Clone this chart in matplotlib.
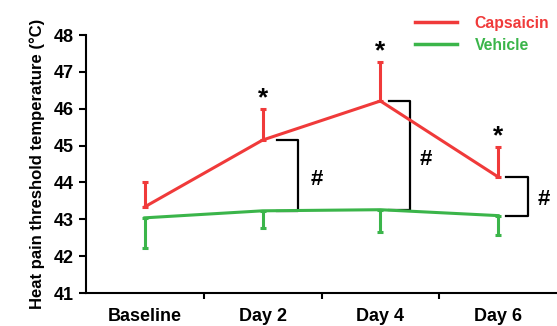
import matplotlib.pyplot as plt
from matplotlib.lines import Line2D

plt.rcParams['font.family'] = ['Liberation Sans', 'DejaVu Sans']
plt.rcParams['font.weight'] = 'bold'

days = ['Baseline', 'Day 2', 'Day 4', 'Day 6']
capsaicin = [43.34, 45.15, 46.21, 44.15]
capsaicin_err = [0.66, 0.85, 1.06, 0.82]
vehicle = [43.04, 43.23, 43.26, 43.10]
vehicle_err = [0.81, 0.46, 0.60, 0.52]

red = '#f03a3a'
green = '#3bb54a'

fig = plt.figure(figsize=(5.57, 3.26), dpi=100)
ax = fig.add_axes([0.1544, 0.1012, 0.8456, 0.7914])

x = list(range(len(days)))
ax.errorbar(x, capsaicin, yerr=[[0] * 4, capsaicin_err], color=red, lw=2.2,
            elinewidth=2.2, capsize=2.3, capthick=2.2, zorder=3)
ax.errorbar(x, vehicle, yerr=[vehicle_err, [0] * 4], color=green, lw=2.2,
            elinewidth=2.2, capsize=2.3, capthick=2.2, zorder=3)

# stars above capsaicin error bars
for i in [1, 2, 3]:
    ax.text(x[i], capsaicin[i] + capsaicin_err[i] - 0.05, '*', ha='center',
            va='bottom', fontsize=19, color='black')

# brackets between groups
offs = {1: 0.3, 2: 0.25, 3: 0.25}
hash_offs = {1: 0.46, 2: 0.39, 3: 0.39}
for i in [1, 2, 3]:
    bx = x[i] + offs[i]
    ax.plot([bx - 0.18, bx, bx, bx - 0.18],
            [capsaicin[i], capsaicin[i], vehicle[i], vehicle[i]],
            color='black', lw=1.6, zorder=2)
    ax.text(x[i] + hash_offs[i], (capsaicin[i] + vehicle[i]) / 2 - 0.1, '#',
            ha='center', va='center', fontsize=16, color='black')

ax.set_xlim(-0.5, 3.5)
ax.set_ylim(41, 48)
ax.set_yticks(range(41, 49))
ax.set_xticks([0.5, 1.5, 2.5])
ax.set_xticklabels([])
ax.set_xticks(x, minor=True)
ax.set_xticklabels(days, minor=True, fontsize=13, fontweight='bold')
ax.tick_params(axis='x', which='minor', length=0, pad=11)
ax.tick_params(axis='x', which='major', length=4, width=1.5)
ax.tick_params(axis='y', length=5, width=1.5, labelsize=13, pad=4)
for lab in ax.get_yticklabels():
    lab.set_fontweight('bold')

for s in ['top', 'right']:
    ax.spines[s].set_visible(False)
for s in ['left', 'bottom']:
    ax.spines[s].set_linewidth(1.5)

ax.set_ylabel('Heat pain threshold temperature (°C)', fontsize=12,
              fontweight='bold', labelpad=6)

handles = [Line2D([], [], color=red, lw=2.5), Line2D([], [], color=green, lw=2.5)]
leg = ax.legend(handles, ['Capsaicin', 'Vehicle'], loc='upper right',
                bbox_to_anchor=(1.0, 1.105), frameon=False, fontsize=11.3,
                handlelength=2.7, handletextpad=1.1, labelspacing=0.45,
                borderaxespad=0.1)
for txt, c in zip(leg.get_texts(), [red, green]):
    txt.set_color(c)
    txt.set_fontweight('bold')

fig.savefig('out.png', dpi=100)
